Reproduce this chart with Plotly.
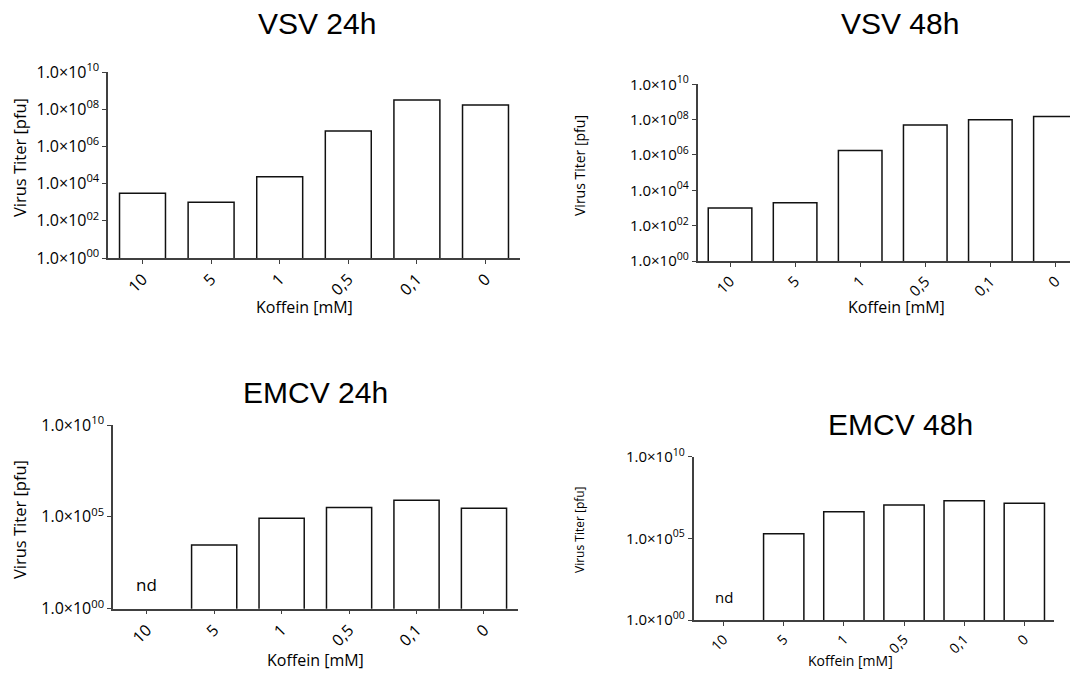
import plotly.graph_objects as go

# ---- data ----
categories = ["10", "5", "1", "0,5", "0,1", "0"]
vsv_24h = [3.0e3, 1.0e3, 2.3e4, 6.7e6, 3.1e8, 1.7e8]
vsv_48h = [1.0e3, 2.0e3, 1.8e6, 5.0e7, 1.0e8, 1.5e8]
emcv_24h = [None, 2.9e3, 8.3e4, 3.2e5, 8.0e5, 2.9e5]
emcv_48h = [None, 1.9e5, 4.3e6, 1.1e7, 2.0e7, 1.4e7]
titles = ["VSV 24h", "VSV 48h", "EMCV 24h", "EMCV 48h"]
ticks_vsv = [1e0, 1e2, 1e4, 1e6, 1e8, 1e10]
ticklabels_vsv = ["1.0×10<sup>00</sup>", "1.0×10<sup>02</sup>", "1.0×10<sup>04</sup>",
                  "1.0×10<sup>06</sup>", "1.0×10<sup>08</sup>", "1.0×10<sup>10</sup>"]
ticks_emcv = [1e0, 1e5, 1e10]
ticklabels_emcv = ["1.0×10<sup>00</sup>", "1.0×10<sup>05</sup>", "1.0×10<sup>10</sup>"]
y_title = "Virus Titer [pfu]"
x_title = "Koffein [mM]"
nd_label = "nd"

W, H = 1078, 675
OFF = 8  # page body margin: screen position = paper position + OFF
FONT = "Open Sans"
AX = "#404040"

def px(x):
    return (x - OFF) / W

def py(y):
    return 1 - (y - OFF) / H

def dx(a, b):
    return [max(px(a), 0.0), min(px(b), 1.0)]

def dy(top, bottom):
    return [py(bottom), py(top)]

panels = [
    dict(data=vsv_24h, xd=(108.2, 519.8), yd=(72, 258), xr=[-0.5, 5.5],
         tv=ticks_vsv, tt=ticklabels_vsv, title_xy=(317, 23),
         ytick=16, xtick=16, xt=(305, 307, 16), yt=(19, 158, 16.5), nd=None),
    dict(data=vsv_48h, xd=(697.5, 1086), yd=(84.3, 261), xr=[-0.5, 5.47],
         tv=ticks_vsv, tt=ticklabels_vsv, title_xy=(900, 23),
         ytick=15, xtick=15, xt=(896, 307, 16), yt=(579, 166, 14), nd=None),
    dict(data=emcv_24h, xd=(113, 517.7), yd=(425, 608.7), xr=[-0.5, 5.5],
         tv=ticks_emcv, tt=ticklabels_emcv, title_xy=(315, 392),
         ytick=16, xtick=16, xt=(315, 660, 16), yt=(19, 520, 16.5), nd=(1.3, 17)),
    dict(data=emcv_48h, xd=(693.5, 1054.4), yd=(456.7, 620), xr=[-0.5, 5.5],
         tv=ticks_emcv, tt=ticklabels_emcv, title_xy=(900, 424),
         ytick=15, xtick=14, xt=(850, 660, 14), yt=(579, 530, 12), nd=(1.43, 15)),
]

fig = go.Figure()
annotations = []
for i, p in enumerate(panels):
    n = "" if i == 0 else str(i + 1)
    fig.add_trace(go.Bar(
        x=categories, y=p["data"], xaxis="x" + n, yaxis="y" + n,
        marker=dict(color="white", line=dict(color="#111111", width=1.5)),
        showlegend=False, hoverinfo="x+y",
    ))
    fig.update_layout(**{
        "xaxis" + n: dict(
            domain=dx(*p["xd"]), anchor="y" + n, type="category",
            categoryorder="array", categoryarray=categories, range=p["xr"],
            showline=True, linecolor=AX, linewidth=1.5, showgrid=False, zeroline=False,
            ticks="outside", ticklen=4, tickcolor=AX, tickwidth=1, tickangle=-45,
            tickfont=dict(family=FONT, size=p["xtick"], color="black"),
        ),
        "yaxis" + n: dict(
            domain=dy(*p["yd"]), anchor="x" + n, type="log", range=[0, 10],
            showline=True, linecolor=AX, linewidth=1.5, showgrid=False, zeroline=False,
            ticks="outside", ticklen=4, tickcolor=AX, tickwidth=1,
            tickvals=p["tv"], ticktext=p["tt"],
            tickfont=dict(family=FONT, size=p["ytick"], color="black"),
        ),
    })
    # panel title
    tx, ty = p["title_xy"]
    annotations.append(dict(
        text=titles[i], xref="paper", yref="paper", x=px(tx), y=py(ty),
        xanchor="center", yanchor="middle", showarrow=False,
        font=dict(family="Liberation Sans, Arial", size=30, color="black"),
    ))
    # axis titles
    xx, xy, xs = p["xt"]
    annotations.append(dict(
        text=x_title, xref="paper", yref="paper", x=px(xx), y=py(xy),
        xanchor="center", yanchor="middle", showarrow=False,
        font=dict(family=FONT, size=xs, color="black"),
    ))
    yx, yy, ys = p["yt"]
    annotations.append(dict(
        text=y_title, xref="paper", yref="paper", x=px(yx), y=py(yy),
        xanchor="center", yanchor="middle", showarrow=False, textangle=-90,
        font=dict(family=FONT, size=ys, color="black"),
    ))
    if p["nd"] is not None:
        ndy, nds = p["nd"]
        annotations.append(dict(
            text=nd_label, xref="x" + n, yref="y" + n, x=0, y=ndy,
            showarrow=False, font=dict(family=FONT, size=nds, color="black"),
        ))

fig.update_layout(
    width=W, height=H, margin=dict(l=0, r=0, t=0, b=0, autoexpand=False),
    paper_bgcolor="white", plot_bgcolor="white",
    bargap=0.33, annotations=annotations,
    font=dict(family=FONT, color="black"),
)

fig.write_html("out.html")
